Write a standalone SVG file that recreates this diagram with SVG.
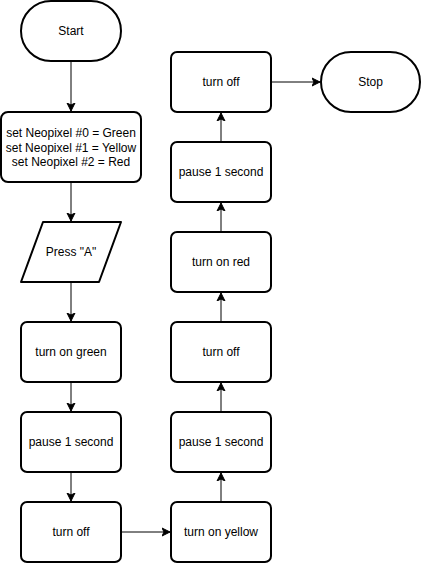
<svg xmlns="http://www.w3.org/2000/svg" width="421" height="563" viewBox="0 0 421 563">
<defs>
<style>
.n{fill:#fff;stroke:#000;stroke-width:2}
.t{font-family:"Liberation Sans",Arial,sans-serif;font-size:12px;fill:#000;text-anchor:middle}
.e{fill:none;stroke:#000;stroke-width:1;marker-end:url(#a)}
</style>
<marker id="a" markerUnits="userSpaceOnUse" markerWidth="10" markerHeight="10" viewBox="0 0 10 10" refX="8" refY="5" orient="auto">
<path d="M0,1 L8,5 L0,9 L2,5 z" fill="#000" stroke="#000" stroke-width="1"/>
</marker>
</defs>
<rect width="421" height="563" fill="#fff"/>
<g id="connectors">
<path class="e" d="M71,62 V111"/>
<path class="e" d="M71,183 V221"/>
<path class="e" d="M71,283 V321"/>
<path class="e" d="M71,383 V411"/>
<path class="e" d="M71,473 V501"/>
<path class="e" d="M122,532 H170"/>
<path class="e" d="M221,501 V473"/>
<path class="e" d="M221,411 V383"/>
<path class="e" d="M221,321 V293"/>
<path class="e" d="M221,231 V203"/>
<path class="e" d="M221,141 V113"/>
<path class="e" d="M272,82 H320"/>
</g>
<g id="start"><rect class="n" x="21" y="1" width="100" height="60" rx="30" ry="30"/><text class="t" x="71" y="35">Start</text></g>
<g id="set"><rect class="n" x="1" y="112" width="140" height="70" rx="7" ry="7"/>
<text class="t" x="71" y="137">set Neopixel #0 = Green</text>
<text class="t" x="71" y="151.5">set Neopixel #1 = Yellow</text>
<text class="t" x="71" y="166">set Neopixel #2 = Red</text></g>
<g id="press"><path class="n" d="M43,222 H121 L99,282 H21 Z" stroke-linejoin="round"/><text class="t" x="71" y="256">Press "A"</text></g>
<g id="green"><rect class="n" x="21" y="322" width="100" height="60" rx="6" ry="6"/><text class="t" x="71" y="356">turn on green</text></g>
<g id="pause1"><rect class="n" x="21" y="412" width="100" height="60" rx="6" ry="6"/><text class="t" x="71" y="446">pause 1 second</text></g>
<g id="off1"><rect class="n" x="21" y="502" width="100" height="60" rx="6" ry="6"/><text class="t" x="71" y="536">turn off</text></g>
<g id="yellow"><rect class="n" x="171" y="502" width="100" height="60" rx="6" ry="6"/><text class="t" x="221" y="536">turn on yellow</text></g>
<g id="pause2"><rect class="n" x="171" y="412" width="100" height="60" rx="6" ry="6"/><text class="t" x="221" y="446">pause 1 second</text></g>
<g id="off2"><rect class="n" x="171" y="322" width="100" height="60" rx="6" ry="6"/><text class="t" x="221" y="356">turn off</text></g>
<g id="red"><rect class="n" x="171" y="232" width="100" height="60" rx="6" ry="6"/><text class="t" x="221" y="266">turn on red</text></g>
<g id="pause3"><rect class="n" x="171" y="142" width="100" height="60" rx="6" ry="6"/><text class="t" x="221" y="176">pause 1 second</text></g>
<g id="off3"><rect class="n" x="171" y="52" width="100" height="60" rx="6" ry="6"/><text class="t" x="221" y="86">turn off</text></g>
<g id="stop"><rect class="n" x="321" y="52" width="99" height="60" rx="30" ry="30"/><text class="t" x="370.5" y="86">Stop</text></g>
</svg>
